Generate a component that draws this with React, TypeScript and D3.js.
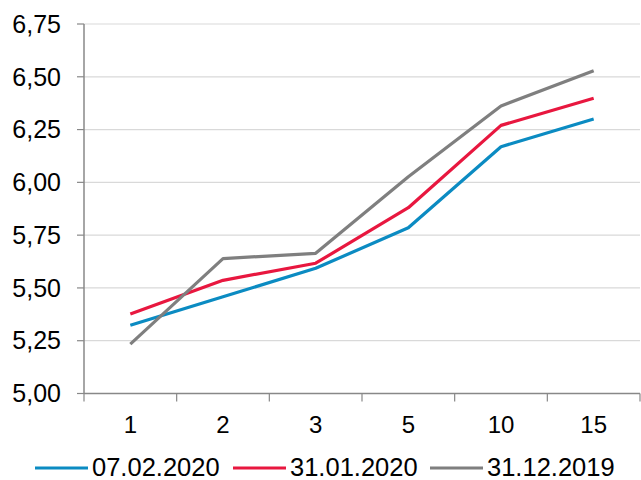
import React from "react";
import * as d3 from "d3";

const categories = ["1", "2", "3", "5", "10", "15"];
const seriesNames = ["07.02.2020", "31.01.2020", "31.12.2019"];
const series0702 = [5.323, 5.458, 5.593, 5.785, 6.169, 6.3];
const series3101 = [5.377, 5.536, 5.617, 5.88, 6.27, 6.398];
const series3112 = [5.234, 5.639, 5.664, 6.027, 6.362, 6.529];
const yTicks = [5.0, 5.25, 5.5, 5.75, 6.0, 6.25, 6.5, 6.75];
const colors = ["#0B8BC2", "#E8173F", "#7F7F7F"];

const W = 641;
const H = 480;
const left = 84;
const right = 640;
const top = 24;
const bottom = 393.5;

export default function App() {
  const x = d3.scaleBand<string>().domain(categories).range([left, right]).padding(0);
  const y = d3.scaleLinear().domain([5, 6.75]).range([bottom, top]);
  const line = d3
    .line<number>()
    .x((_, i) => (x(categories[i]) as number) + x.bandwidth() / 2)
    .y((d) => y(d));
  const all = [series0702, series3101, series3112];
  const fmt = (v: number) => v.toFixed(2).replace(".", ",");
  const edges = categories.map((c) => x(c) as number).concat([right]);
  const legendX = [35, 233, 430];
  return (
    <svg
      width={W}
      height={H}
      style={{ position: "absolute", left: 0, top: 0, fontFamily: "'Liberation Sans', Arial, sans-serif" }}
    >
      <rect width={W} height={H} fill="#fff" />
      {yTicks.map((t) => (
        <g key={t}>
          {t > 5 && <line x1={left} x2={right} y1={y(t)} y2={y(t)} stroke="#D9D9D9" strokeWidth={1.2} />}
          <line x1={left - 7} x2={left} y1={y(t)} y2={y(t)} stroke="#888" strokeWidth={1.2} />
          <text x={61} y={y(t)} dy="0.35em" textAnchor="end" fontSize={25} fill="#000">
            {fmt(t)}
          </text>
        </g>
      ))}
      <line x1={left} x2={left} y1={top} y2={bottom} stroke="#888" strokeWidth={1.5} />
      <line x1={left} x2={right} y1={bottom} y2={bottom} stroke="#888" strokeWidth={1.5} />
      {edges.map((e, i) => (
        <line key={i} x1={e} x2={e} y1={bottom} y2={bottom + 8} stroke="#888" strokeWidth={1.2} />
      ))}
      {categories.map((c) => (
        <text
          key={c}
          x={(x(c) as number) + x.bandwidth() / 2}
          y={433}
          textAnchor="middle"
          fontSize={24}
          fill="#000"
        >
          {c}
        </text>
      ))}
      {all.map((s, i) => (
        <path key={i} d={line(s) as string} fill="none" stroke={colors[i]} strokeWidth={3.2} strokeLinejoin="round" />
      ))}
      {seriesNames.map((n, i) => (
        <g key={n}>
          <line x1={legendX[i]} x2={legendX[i] + 53} y1={468} y2={468} stroke={colors[i]} strokeWidth={3.2} />
          <text x={legendX[i] + 57} y={476} fontSize={25.5} fill="#000">
            {n}
          </text>
        </g>
      ))}
    </svg>
  );
}
